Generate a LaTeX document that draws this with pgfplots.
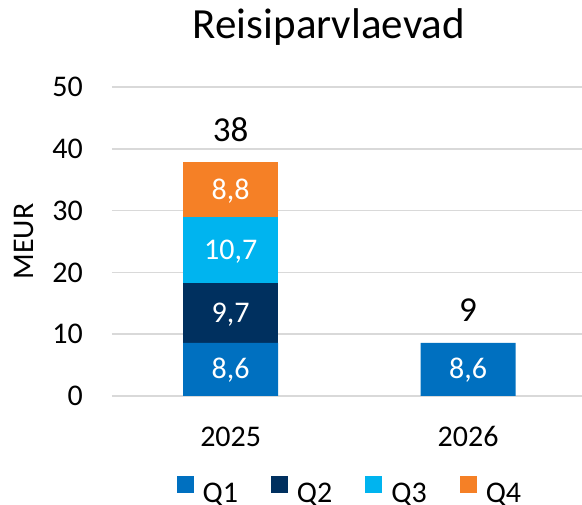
\documentclass[border=0pt]{standalone}
\usepackage{fontspec}
\setmainfont{Carlito}
\usepackage{pgfplots}
\pgfplotsset{compat=1.18}

\definecolor{qone}{HTML}{0070C0}
\definecolor{qtwo}{HTML}{00305F}
\definecolor{qthree}{HTML}{00B4EF}
\definecolor{qfour}{HTML}{F58026}

\pgfplotsset{
  common/.style={
    at={(112pt,109pt)}, anchor=south west,
    scale only axis,
    width=470pt, height=309pt,
    xmin=-0.5, xmax=1.48,
    ymin=0, ymax=50,
    clip=false,
  },
}

\begin{document}
\begin{tikzpicture}
\path[use as bounding box] (0,0) rectangle (582pt,505pt);
\begin{axis}[
    common,
    ybar stacked,
    bar width=95pt,
    xtick={0,1},
    xticklabels={2025,2026},
    ytick={0,10,...,50},
    ymajorgrids,
    grid style={line width=1.5pt, color=black!15},
    axis line style={draw=none},
    major tick length=0pt,
    tick label style={font=\fontsize{30}{36}\selectfont},
    /pgf/number format/assume math mode=true,
    yticklabel style={anchor=east, inner sep=0pt, xshift=-29pt},
    xticklabel style={anchor=base, inner sep=0pt, yshift=-51pt},
    ylabel={MEUR},
    ylabel style={font=\fontsize{30}{36}\selectfont,
      at={(axis description cs:-0.168,0.5)}, anchor=base},
    legend style={at={(0.504,-0.304)}, anchor=center, draw=none, fill=none,
      legend columns=4, font=\fontsize{30}{36}\selectfont,
      inner sep=0pt, nodes={inner sep=0pt},
      /tikz/every odd column/.append style={column sep=9pt},
      /tikz/every even column/.append style={column sep=33pt}},
    legend image code/.code={\fill[#1] (0pt,0.5pt) rectangle (17pt,17.5pt);},
]
\addplot[fill=qone, draw=none] coordinates {(0,8.6) (1,8.6)};
\addlegendentry{Q1}
\addplot[fill=qtwo, draw=none] coordinates {(0,9.7) (1,0)};
\addlegendentry{Q2}
\addplot[fill=qthree, draw=none] coordinates {(0,10.7) (1,0)};
\addlegendentry{Q3}
\addplot[fill=qfour, draw=none] coordinates {(0,8.8) (1,0)};
\addlegendentry{Q4}
\end{axis}
% labels: segment values at segment centres, totals above the stacks
\begin{axis}[common, hide axis]
\addplot[only marks, mark=none, point meta=explicit symbolic,
  nodes near coords,
  nodes near coords style={anchor=base, text=white, yshift=-9.5pt,
    font=\fontsize{30}{36}\selectfont}]
  coordinates {(0,4.3) [8,6] (0,13.45) [9,7] (0,23.65) [10,7] (0,33.4) [8,8]
               (1,4.3) [8,6]};
\addplot[only marks, mark=none, point meta=explicit symbolic,
  nodes near coords,
  nodes near coords style={anchor=base, text=black, yshift=21pt,
    font=\fontsize{35}{42}\selectfont}]
  coordinates {(0,37.8) [38] (1,8.6) [9]};
\end{axis}
\node[font=\fontsize{43}{50}\selectfont, anchor=base] at (329pt,466pt) {Reisiparvlaevad};
\end{tikzpicture}
\end{document}
